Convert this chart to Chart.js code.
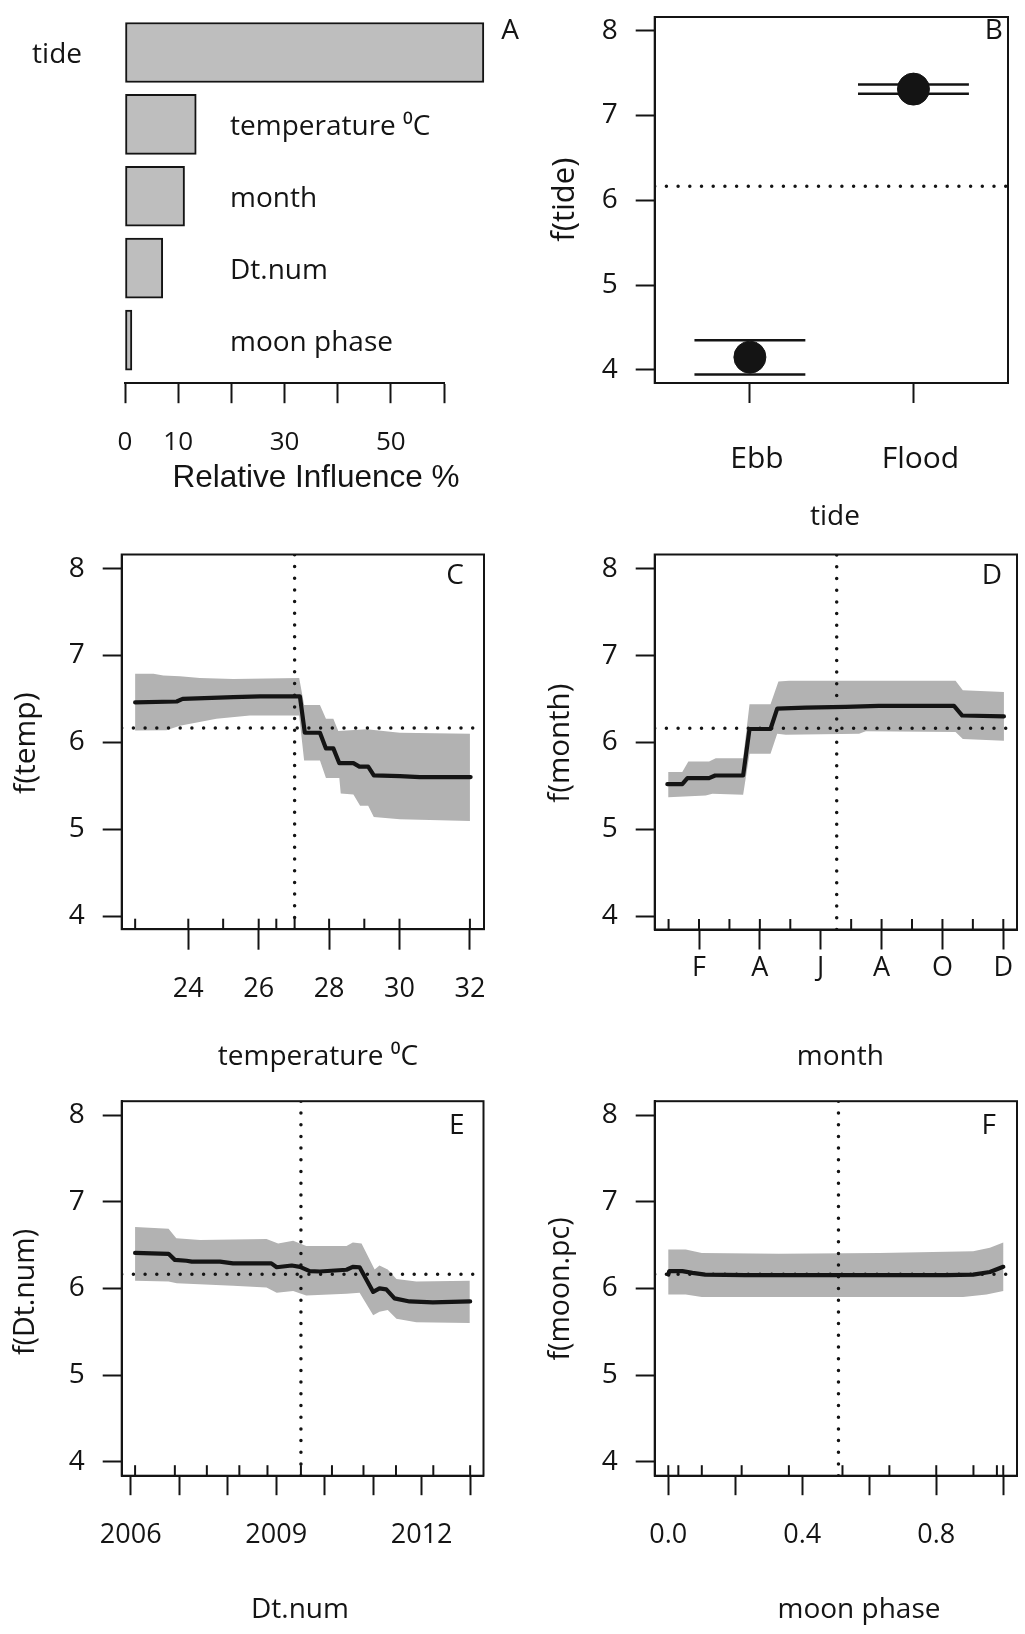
<!DOCTYPE html>
<html>
<head>
<meta charset="utf-8">
<script src="https://cdn.jsdelivr.net/npm/chart.js@4.4.1/dist/chart.umd.min.js"></script>
<style>
  body { margin: 0; background: #fff; }
  #page { position: relative; width: 1025px; height: 1634px; background: #fff; }
  canvas { position: absolute; }
</style>
</head>
<body>
<div id="page">
  <canvas id="pB" width="513" height="540" style="left:512px;top:0"></canvas>
  <canvas id="pA" width="530" height="500" style="left:0;top:0"></canvas>
  <canvas id="pC" width="512" height="540" style="left:0;top:540px"></canvas>
  <canvas id="pD" width="513" height="540" style="left:512px;top:540px"></canvas>
  <canvas id="pE" width="512" height="554" style="left:0;top:1080px"></canvas>
  <canvas id="pF" width="513" height="554" style="left:512px;top:1080px"></canvas>
</div>
<script>
// --- A: relative influence ---
const influenceVars = ['tide', 'temperature \u2070C', 'month', 'Dt.num', 'moon phase'];
const influencePct = [67.5, 13.4, 11.2, 7.1, 1.3];
const influenceTicks = [0, 10, 20, 30, 40, 50, 60];
const influenceTickLabels = [0, 10, 30, 50];

// --- B: tide ---
const tideLevels = ['Ebb', 'Flood'];
const tideFit = [4.15, 7.31];
const tideUpper = [4.35, 7.365];
const tideLower = [3.945, 7.255];

// shared response axis
const fTicks = [4, 5, 6, 7, 8];
const meanFit = 6.165;

// --- C: temperature ---
const tempX = [22.49, 23.67, 23.84, 25.28, 26.04, 27.17, 27.31, 27.74, 27.91, 28.12, 28.29, 28.69, 28.86, 29.11, 29.27, 30.01, 30.58, 32.02];
const tempFit = [6.46, 6.47, 6.50, 6.52, 6.53, 6.53, 6.11, 6.11, 5.93, 5.93, 5.76, 5.76, 5.72, 5.72, 5.62, 5.61, 5.60, 5.60];
const tempUpperX = [22.49, 23.01, 23.29, 23.76, 24.33, 25.28, 27.15, 27.29, 27.74, 27.91, 28.12, 28.26, 29.07, 30.01, 32.0];
const tempUpper = [6.79, 6.79, 6.77, 6.76, 6.74, 6.73, 6.74, 6.43, 6.43, 6.27, 6.27, 6.13, 6.15, 6.11, 6.10];
const tempLowerX = [22.49, 23.38, 23.76, 24.80, 25.75, 27.15, 27.29, 27.74, 27.91, 28.29, 28.33, 28.69, 28.88, 29.11, 29.27, 30.01, 32.0];
const tempLower = [6.135, 6.14, 6.19, 6.27, 6.31, 6.31, 5.79, 5.79, 5.59, 5.59, 5.41, 5.40, 5.27, 5.27, 5.14, 5.115, 5.095];
const tempTicks = [24, 26, 28, 30, 32];
const tempRug = [22.49, 24, 24.99, 26, 26.5, 27.02, 28, 29.0, 30, 32];
const tempMark = 27.02;

// --- D: month ---
const monthX = [0.96, 1.45, 1.62, 2.33, 2.53, 3.45, 3.66, 4.35, 4.57, 5.5, 6.82, 7.91, 10.38, 10.65, 12.02];
const monthFit = [5.52, 5.52, 5.59, 5.59, 5.62, 5.62, 6.155, 6.155, 6.39, 6.40, 6.41, 6.42, 6.42, 6.31, 6.30];
const monthUpperX = [0.99, 1.45, 1.65, 2.33, 2.55, 3.45, 3.66, 4.35, 4.61, 4.96, 10.43, 10.67, 12.02];
const monthUpper = [5.66, 5.66, 5.78, 5.78, 5.82, 5.82, 6.44, 6.44, 6.70, 6.71, 6.71, 6.60, 6.58];
const monthLowerX = [0.99, 2.22, 2.44, 3.45, 3.66, 4.35, 4.57, 4.85, 7.26, 7.48, 10.43, 10.67, 12.02];
const monthLower = [5.37, 5.39, 5.41, 5.40, 5.87, 5.87, 6.10, 6.09, 6.10, 6.13, 6.12, 6.04, 6.02];
const monthTicks = [2, 4, 6, 8, 10, 12];
const monthTickLabels = ['F', 'A', 'J', 'A', 'O', 'D'];
const monthRug = [1, 2, 3, 4, 5, 7, 8, 9, 10, 11, 12];
const monthMark = 6.525;

// --- E: Dt.num ---
const dtX = [2006.09, 2006.78, 2006.91, 2007.15, 2007.26, 2007.84, 2008.11, 2008.90, 2009.01, 2009.32, 2009.49, 2009.69, 2009.90, 2010.45, 2010.58, 2010.72, 2011.00, 2011.13, 2011.27, 2011.44, 2011.75, 2012.23, 2013.00];
const dtFit = [6.41, 6.40, 6.33, 6.32, 6.31, 6.31, 6.29, 6.29, 6.245, 6.265, 6.25, 6.20, 6.196, 6.216, 6.25, 6.245, 5.96, 6.00, 5.99, 5.886, 5.85, 5.84, 5.85];
const dtUpperX = [2006.09, 2006.78, 2006.94, 2007.43, 2008.80, 2009.04, 2009.35, 2009.62, 2010.45, 2010.58, 2010.76, 2011.03, 2011.13, 2011.30, 2011.48, 2011.89, 2012.99];
const dtUpper = [6.71, 6.69, 6.58, 6.56, 6.57, 6.52, 6.55, 6.49, 6.49, 6.53, 6.52, 6.22, 6.265, 6.22, 6.11, 6.08, 6.09];
const dtLowerX = [2006.09, 2006.78, 2006.95, 2008.11, 2008.80, 2009.01, 2009.35, 2009.62, 2010.45, 2010.72, 2011.00, 2011.13, 2011.30, 2011.48, 2011.89, 2012.99];
const dtLower = [6.09, 6.08, 6.06, 6.03, 6.01, 5.95, 5.97, 5.92, 5.94, 5.95, 5.69, 5.73, 5.75, 5.65, 5.61, 5.60];
const dtTicks = [2006, 2007, 2008, 2009, 2010, 2011, 2012, 2013];
const dtTickLabels = [2006, 2009, 2012];
const dtRug = [2006.09, 2006.91, 2007.57, 2008.24, 2008.82, 2009.51, 2010.15, 2010.80, 2011.47, 2012.24, 2013.0];
const dtMark = 2009.51;

// --- F: moon phase ---
const moonX = [0.0, 0.003, 0.042, 0.072, 0.11, 0.23, 0.53, 0.83, 0.91, 0.96, 1.0];
const moonFit = [6.16, 6.20, 6.20, 6.18, 6.16, 6.155, 6.155, 6.155, 6.16, 6.19, 6.25];
const moonUpperX = [0, 0.052, 0.10, 0.33, 0.63, 0.91, 0.96, 1.0];
const moonUpper = [6.45, 6.45, 6.41, 6.40, 6.41, 6.43, 6.47, 6.53];
const moonLowerX = [0, 0.052, 0.10, 0.53, 0.88, 0.95, 1.0];
const moonLower = [5.93, 5.93, 5.90, 5.90, 5.90, 5.93, 5.97];
const moonTicks = [0, 0.2, 0.4, 0.6, 0.8, 1.0];
const moonTickLabels = [0, 0.4, 0.8];
const moonRug = [0, 0.03, 0.10, 0.219, 0.36, 0.52, 0.66, 0.80, 0.911, 0.981, 1.0];
const moonMark = 0.508;

const INK = '#141414';
const BAND = '#b2b2b2';
const BAR = '#bebebe';
const FONT = '"Open Sans", "Noto Sans", sans-serif';

function pts(xs, ys) { return xs.map((x, i) => ({ x: x, y: ys[i] })); }

function fixBox(s, w, h) {
  if (w != null) s.width = w;
  if (h != null) s.height = h;
  s.paddingLeft = s.paddingRight = s.paddingTop = s.paddingBottom = 0;
}

// frame, rug ticks, titles and panel letters
function decor(cfg) {
  return {
    id: 'decor',
    afterDatasetsDraw(chart) {
      const ctx = chart.ctx, a = chart.chartArea;
      ctx.save();
      ctx.strokeStyle = INK;
      ctx.lineWidth = 2;
      if (cfg.frame) ctx.strokeRect(a.left, a.top, a.right - a.left, a.bottom - a.top);
      (cfg.rug || []).forEach(v => {
        const px = chart.scales.x.getPixelForValue(v);
        ctx.beginPath();
        ctx.moveTo(px, a.bottom);
        ctx.lineTo(px, a.bottom - 10.5);
        ctx.stroke();
      });
      if (cfg.barLabels) {
        const b = cfg.barLabels;
        ctx.fillStyle = INK;
        ctx.font = '28px ' + FONT;
        ctx.textBaseline = 'middle';
        b.names.forEach((name, i) => {
          const py = chart.scales.y.getPixelForValue(i) + 3;
          const end = chart.scales.x.getPixelForValue(b.values[i]);
          if (end + 20 > b.insideX) {
            ctx.textAlign = 'right';
            ctx.fillText(name, b.outsideRight, py);
          } else {
            ctx.textAlign = 'left';
            ctx.fillText(name, b.insideX, py);
          }
        });
      }
      ctx.restore();
    },
    afterDraw(chart) {
      const ctx = chart.ctx;
      (cfg.texts || []).forEach(t => {
        ctx.save();
        ctx.fillStyle = INK;
        ctx.font = (t.size || 28) + 'px ' + (t.family || FONT);
        ctx.textAlign = 'center';
        ctx.textBaseline = 'middle';
        ctx.translate(t.x, t.y);
        if (t.rot) ctx.rotate(-Math.PI / 2);
        ctx.fillText(t.text, 0, 0);
        ctx.restore();
      });
    }
  };
}

function yAxis(area, lim) {
  return {
    type: 'linear', position: 'left', min: lim[0], max: lim[1],
    afterBuildTicks: s => { s.ticks = fTicks.map(v => ({ value: v })); },
    ticks: { font: { family: FONT, size: 28 }, color: INK, padding: 18 },
    grid: { drawOnChartArea: false, tickLength: 19, tickWidth: 2, tickColor: INK },
    border: { width: 2, color: INK },
    afterFit: s => fixBox(s, area.l, null)
  };
}

function xAxis(area, h, lim, ticks, label, pad, tl, size, shift) {
  return {
    type: 'linear', position: 'bottom', min: lim[0], max: lim[1],
    afterBuildTicks: s => { s.ticks = ticks.map(v => ({ value: v })); },
    ticks: { font: { family: FONT, size: size || 27 }, color: INK, padding: pad, labelOffset: shift || 0,
      autoSkip: false, maxRotation: 0, callback: label },
    grid: { drawOnChartArea: false, tickLength: tl || 20, tickWidth: 2, tickColor: INK },
    border: { width: 2, color: INK },
    afterFit: s => fixBox(s, null, h - area.b)
  };
}

function baseOptions(area, w) {
  return {
    responsive: false, animation: false, events: [],
    layout: { padding: { left: 0, top: area.t, right: w - area.r, bottom: 0 } },
    plugins: { legend: { display: false }, tooltip: { enabled: false } }
  };
}

const dotted = { borderColor: INK, borderWidth: 3.5, borderDash: [0, 11.7], borderCapStyle: 'round', pointRadius: 0, showLine: true };

// ---------- A ----------
(function () {
  const W = 530, H = 500, area = { l: 125, t: 16.55, r: 444, b: 383.2 };
  const opts = baseOptions(area, W);
  opts.layout.padding.left = area.l;
  opts.indexAxis = 'y';
  opts.scales = {
    y: { type: 'linear', min: -0.5, max: 4.6, reverse: true, offset: false, grace: 0, display: false },
    x: xAxis(area, H, [0, 60], influenceTicks,
      v => influenceTickLabels.includes(v) ? String(v) : '', 23.6, 20, 26)
  };
  new Chart(document.getElementById('pA'), {
    type: 'bar',
    data: { datasets: [{
      data: influencePct.map((v, i) => ({ x: v, y: i })),
      backgroundColor: BAR, borderColor: INK, borderWidth: 2, borderSkipped: false,
      barThickness: 60, clip: false
    }] },
    options: opts,
    plugins: [decor({
      frame: false,
      barLabels: { names: influenceVars, values: influencePct, insideX: 230, outsideRight: 82 },
      texts: [
        { text: 'Relative Influence %', x: 316, y: 478, size: 31.5, family: '"Liberation Sans", Arial, sans-serif' },
        { text: 'A', x: 510, y: 31 }
      ]
    })]
  });
})();

// ---------- B ----------
(function () {
  const W = 513, H = 540, area = { l: 142.7, t: 8.6, r: 504, b: 383 };
  const xLim = [0.418, 2.578], yLim = [3.845, 8.16], half = 0.339;
  const opts = baseOptions(area, W);
  opts.scales = {
    x: xAxis(area, H, xLim, [1, 2], v => tideLevels[v - 1] || '', 38.8, 20, 30, 7),
    y: yAxis(area, yLim)
  };
  const seg = (c, v) => ({ data: [{ x: c - half, y: v }, { x: c + half, y: v }], borderColor: INK, borderWidth: 2.5, pointRadius: 0, showLine: true });
  const datasets = [
    { data: pts([1, 2], tideFit), pointRadius: 16, pointBackgroundColor: INK, pointBorderColor: INK, showLine: false }
  ];
  tideLevels.forEach((_, i) => {
    datasets.push(seg(i + 1, tideUpper[i]));
    datasets.push(seg(i + 1, tideLower[i]));
  });
  datasets.push(Object.assign({ data: [{ x: xLim[0], y: meanFit }, { x: xLim[1], y: meanFit }] }, dotted));
  new Chart(document.getElementById('pB'), {
    type: 'scatter', data: { datasets: datasets }, options: opts,
    plugins: [decor({
      frame: true,
      texts: [
        { text: 'f(tide)', x: 53, y: 199.7, rot: true, size: 31 },
        { text: 'tide', x: 323, y: 516.6 },
        { text: 'B', x: 481.7, y: 31 }
      ]
    })]
  });
})();

// ---------- C-F: partial dependence panels ----------
function effectPanel(id, W, H, area, d) {
  const opts = baseOptions(area, W);
  opts.scales = {
    x: xAxis(area, H, d.xLim, d.ticks, d.label, d.pad, d.tl),
    y: yAxis(area, d.yLim)
  };
  const band = pts(d.upX, d.up).concat(pts(d.loX, d.lo).reverse());
  const datasets = [
    { data: pts(d.x, d.fit), borderColor: INK, borderWidth: 4.2, borderJoinStyle: 'round', borderCapStyle: 'round', pointRadius: 0, showLine: true },
    Object.assign({ data: [{ x: d.xLim[0], y: meanFit }, { x: d.xLim[1], y: meanFit }] }, dotted),
    Object.assign({ data: [{ x: d.mark, y: d.yLim[0] }, { x: d.mark, y: d.yLim[1] }] }, dotted),
    { data: band, fill: 'shape', backgroundColor: BAND, borderColor: 'rgba(0,0,0,0)', borderWidth: 1, pointRadius: 0, showLine: true }
  ];
  new Chart(document.getElementById(id), {
    type: 'scatter', data: { datasets: datasets }, options: opts,
    plugins: [decor({ frame: true, rug: d.rug, texts: d.texts })]
  });
}

effectPanel('pC', 512, 540, { l: 121.7, t: 14.5, r: 484, b: 389.2 }, {
  x: tempX, fit: tempFit, upX: tempUpperX, up: tempUpper, loX: tempLowerX, lo: tempLower,
  xLim: [22.108, 32.40], yLim: [3.849, 8.162], ticks: tempTicks, label: v => String(v),
  pad: 23.5, tl: 20.5, rug: tempRug, mark: tempMark,
  texts: [
    { text: 'f(temp)', x: 26, y: 203.2, rot: true, size: 30 },
    { text: 'temperature \u2070C', x: 318, y: 516.6 },
    { text: 'C', x: 455, y: 36.2 }
  ]
});

effectPanel('pD', 513, 540, { l: 142.7, t: 14.5, r: 505, b: 389.5 }, {
  x: monthX, fit: monthFit, upX: monthUpperX, up: monthUpper, loX: monthLowerX, lo: monthLower,
  xLim: [0.544, 12.45], yLim: [3.849, 8.162], ticks: monthTicks,
  label: v => monthTickLabels[monthTicks.indexOf(v)] || '',
  pad: 3.1, tl: 20, rug: monthRug, mark: monthMark,
  texts: [
    { text: 'f(month)', x: 49, y: 203.2, rot: true, size: 29.5 },
    { text: 'month', x: 328.3, y: 516.6 },
    { text: 'D', x: 480, y: 36.2 }
  ]
});

effectPanel('pE', 512, 554, { l: 121.7, t: 21.2, r: 483.5, b: 395.7 }, {
  x: dtX, fit: dtFit, upX: dtUpperX, up: dtUpper, loX: dtLowerX, lo: dtLower,
  xLim: [2005.814, 2013.275], yLim: [3.837, 8.163], ticks: dtTicks,
  label: v => dtTickLabels.includes(v) ? String(v) : '',
  pad: 24.4, tl: 19.5, rug: dtRug, mark: dtMark,
  texts: [
    { text: 'f(Dt.num)', x: 26, y: 212, rot: true, size: 28.5 },
    { text: 'Dt.num', x: 300, y: 530 },
    { text: 'E', x: 456.7, y: 45.9 }
  ]
});

effectPanel('pF', 513, 554, { l: 142.7, t: 21.2, r: 505, b: 395.7 }, {
  x: moonX, fit: moonFit, upX: moonUpperX, up: moonUpper, loX: moonLowerX, lo: moonLower,
  xLim: [-0.0406, 1.041], yLim: [3.837, 8.163], ticks: moonTicks,
  label: v => moonTickLabels.some(t => Math.abs(t - v) < 1e-9) ? v.toFixed(1) : '',
  pad: 24.4, tl: 19.5, rug: moonRug, mark: moonMark,
  texts: [
    { text: 'f(moon.pc)', x: 49, y: 209, rot: true, size: 28.5 },
    { text: 'moon phase', x: 347, y: 530 },
    { text: 'F', x: 476.7, y: 45.9 }
  ]
});
</script>
</body>
</html>
